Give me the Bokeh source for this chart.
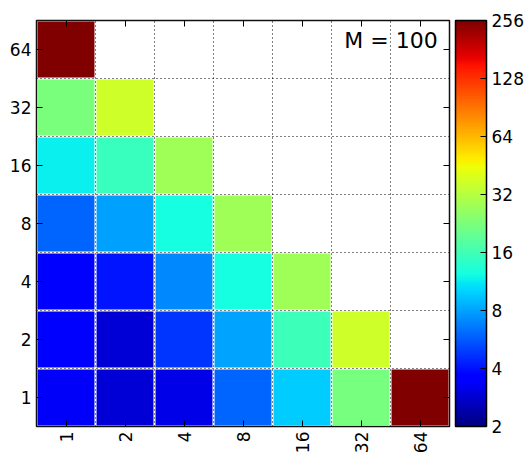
import numpy as np
from bokeh.plotting import figure
from bokeh.models import (ColumnDataSource, LogColorMapper, ColorBar, FixedTicker,
                          LinearAxis, Label, PrintfTickFormatter)
from bokeh.embed import file_html
from bokeh.resources import INLINE

# ---- data ----
x_labels = ["1", "2", "4", "8", "16", "32", "64"]
y_labels = ["1", "2", "4", "8", "16", "32", "64"]
row_1 = [3.4, 2.9, 3.1, 6.0, 9.7, 22.0, 256.0]
row_2 = [3.5, 2.9, 4.7, 8.1, 15.6, 37.0]
row_4 = [3.5, 4.1, 7.0, 12.5, 28.0]
row_8 = [5.9, 7.9, 12.5, 28.0]
row_16 = [11.5, 15.2, 28.0]
row_32 = [22.6, 37.0]
row_64 = [256.0]
rows = [row_1, row_2, row_4, row_8, row_16, row_32, row_64]
cbar_ticks = [2, 4, 8, 16, 32, 64, 128, 256]
annotation = "M = 100"

# ---- jet palette ----
def jet(n=256):
    t = np.linspace(0, 1, n)
    r = np.interp(t, [0, 0.35, 0.66, 0.89, 1], [0, 0, 1, 1, 0.5])
    g = np.interp(t, [0, 0.125, 0.375, 0.64, 0.91, 1], [0, 0, 1, 1, 0, 0])
    b = np.interp(t, [0, 0.11, 0.34, 0.65, 1], [0.5, 1, 1, 0, 0])
    return ["#%02x%02x%02x" % (int(round(a * 255)), int(round(c * 255)), int(round(d * 255)))
            for a, c, d in zip(r, g, b)]

palette = jet()

xs, ys, vals = [], [], []
for yi, row in enumerate(rows):
    for xi, v in enumerate(row):
        xs.append(xi)
        ys.append(yi)
        vals.append(v)
src = ColumnDataSource(dict(x=xs, y=ys, v=vals))

mapper = LogColorMapper(palette=palette, low=cbar_ticks[0], high=cbar_ticks[-1])

p = figure(width=530, height=456, x_range=(-0.5, 6.5), y_range=(-0.5, 6.5),
           output_backend="svg", toolbar_location=None,
           min_border_left=36, min_border_top=20, min_border_right=81, min_border_bottom=0)
p.background_fill_color = "white"
p.border_fill_color = "white"
p.outline_line_color = "#111111"
p.outline_line_width = 1.5

p.rect(x="x", y="y", width=0.965, height=0.965, source=src,
       fill_color={"field": "v", "transform": mapper}, line_color=None)

font = "DejaVu Sans"
ticks = list(range(7))
for ax, labels in ((p.xaxis[0], x_labels), (p.yaxis[0], y_labels)):
    ax.ticker = FixedTicker(ticks=ticks)
    ax.major_label_overrides = {i: l for i, l in enumerate(labels)}
    ax.major_label_text_font = font
    ax.major_label_text_font_size = "17px"
    ax.major_label_text_color = "black"
    ax.major_tick_in = 6
    ax.major_tick_out = 0
    ax.minor_tick_line_color = None
    ax.axis_line_color = None
    ax.major_tick_line_color = "black"
    ax.major_label_standoff = 5
p.xaxis.major_label_orientation = np.pi / 2

for side in ("above", "right"):
    a = LinearAxis(ticker=FixedTicker(ticks=ticks), major_label_text_font_size="1px",
                   major_label_text_color=None,
                   major_tick_in=6, major_tick_out=0, minor_tick_line_color=None,
                   axis_line_color=None, major_label_standoff=0,
                   major_tick_line_color="black")
    p.add_layout(a, side)

grid_ticks = [i + 0.5 for i in range(6)]
for g in (p.xgrid[0], p.ygrid[0]):
    g.ticker = FixedTicker(ticks=grid_ticks)
    g.grid_line_color = "black"
    g.grid_line_dash = "1 3"
    g.grid_line_width = 1

p.add_layout(Label(x=6.3, y=6.16, text=annotation, text_align="right",
                   text_baseline="middle", text_font=font, text_font_size="22px",
                   text_color="black"))

cb = ColorBar(color_mapper=mapper, ticker=FixedTicker(ticks=cbar_ticks),
              formatter=PrintfTickFormatter(format="%d"),
              width=31, padding=0, margin=0, location=(6, 0),
              bar_line_color="black", bar_line_width=1.5,
              major_tick_in=6, major_tick_out=0, major_tick_line_color="black",
              minor_tick_line_color=None, label_standoff=5,
              major_label_text_font=font, major_label_text_font_size="17px",
              major_label_text_color="black", background_fill_alpha=0)
p.add_layout(cb, "right")

open("out.html", "w").write(file_html(p, INLINE))
